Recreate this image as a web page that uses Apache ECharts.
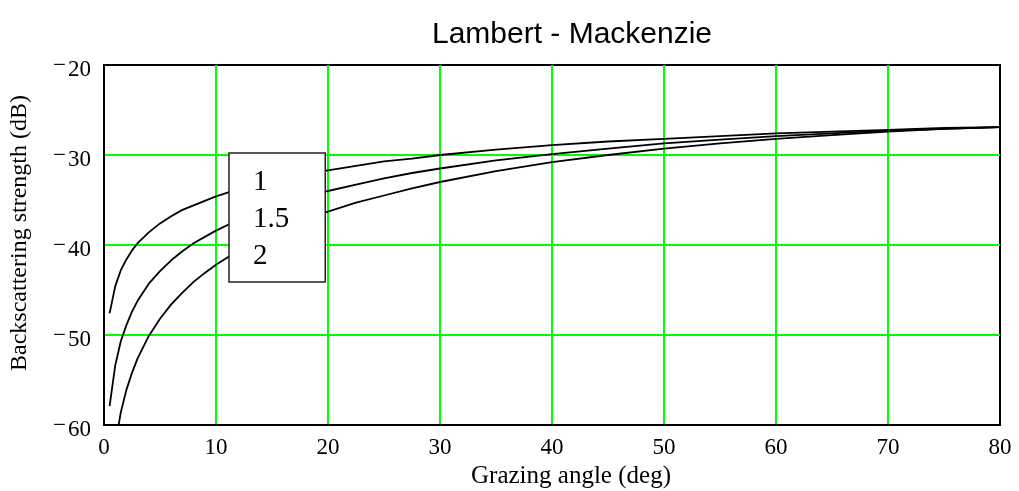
<!DOCTYPE html>
<html>
<head>
<meta charset="utf-8">
<script src="https://cdn.jsdelivr.net/npm/echarts@6/dist/echarts.min.js"></script>
<style>
  html, body { margin: 0; padding: 0; background: #ffffff; }
  #chart { width: 1019px; height: 491px; }
</style>
</head>
<body>
<div id="chart"></div>
<script>
// Grazing angles (deg) at which the curves are sampled
const angles = [0.5, 1, 1.5, 2, 2.5, 3, 4, 5, 6, 7, 8, 9, 10, 12, 14, 16, 18, 20,
  22.5, 25, 27.5, 30, 35, 40, 45, 50, 55, 60, 65, 70, 75, 80];

// Backscattering strength (dB) for each curve
const curve1 = [-47.6, -44.6, -42.8, -41.6, -40.6, -39.8, -38.6, -37.6, -36.8, -36.1,
  -35.6, -35.1, -34.6, -33.8, -33.2, -32.6, -32.1, -31.7, -31.2, -30.7, -30.4, -30.0,
  -29.4, -28.9, -28.5, -28.2, -27.9, -27.6, -27.4, -27.2, -27.0, -26.9];
const curve15 = [-57.9, -53.4, -50.7, -48.9, -47.4, -46.2, -44.3, -42.9, -41.7, -40.7,
  -39.8, -39.1, -38.4, -37.2, -36.2, -35.4, -34.7, -34.0, -33.3, -32.6, -32.0, -31.5,
  -30.6, -29.9, -29.3, -28.7, -28.3, -27.9, -27.6, -27.3, -27.1, -26.9];
const curve2 = [null, -62.2, -58.6, -56.1, -54.2, -52.6, -50.1, -48.2, -46.6, -45.3,
  -44.1, -43.1, -42.2, -40.6, -39.3, -38.2, -37.2, -36.3, -35.3, -34.5, -33.7, -33.0,
  -31.8, -30.8, -30.0, -29.3, -28.7, -28.2, -27.8, -27.4, -27.1, -26.9];

const seriesNames = ['1', '1.5', '2'];
const seriesValues = [curve1, curve15, curve2];

const xTicks = { min: 0, max: 80, step: 10 };
const yTicks = { min: -60, max: -20, step: 10 };

const serif = '"Liberation Serif", "Times New Roman", serif';
const sans = '"Liberation Sans", Arial, sans-serif';

const chart = echarts.init(document.getElementById('chart'), null, { renderer: 'canvas' });

chart.setOption({
  backgroundColor: '#ffffff',
  animation: false,
  title: {
    text: 'Lambert - Mackenzie',
    left: 567,
    textAlign: 'center',
    top: 15,
    textStyle: { fontFamily: sans, fontSize: 30, fontWeight: 'normal', color: '#000' }
  },
  legend: {
    data: seriesNames,
    orient: 'vertical',
    left: 229,
    top: 153,
    icon: 'none',
    itemWidth: 0,
    itemHeight: 30,
    itemGap: 7,
    padding: [14, 36, 11, 19],
    backgroundColor: '#ffffff',
    borderColor: '#222222',
    borderWidth: 1.5,
    selectedMode: false,
    textStyle: { fontFamily: serif, fontSize: 29, color: '#000', lineHeight: 30 }
  },
  grid: {
    left: 104, right: 19, top: 65, bottom: 66,
    outerBoundsMode: 'none',
    containLabel: false,
    show: true,
    borderColor: '#000',
    borderWidth: 2,
    backgroundColor: 'transparent'
  },
  xAxis: {
    type: 'value',
    min: xTicks.min, max: xTicks.max, interval: xTicks.step,
    name: 'Grazing angle (deg)',
    nameLocation: 'middle',
    nameGap: 33,
    nameTextStyle: { fontFamily: serif, fontSize: 25, color: '#000', padding: [0, 0, 0, 38] },
    axisLine: { show: true, lineStyle: { color: '#000', width: 2 } },
    axisTick: { show: false },
    axisLabel: { margin: 11, fontFamily: serif, fontSize: 23, color: '#000' },
    splitLine: { show: true, showMinLine: false, showMaxLine: false,
      lineStyle: { color: '#00ff00', width: 2 } }
  },
  yAxis: {
    type: 'value',
    min: yTicks.min, max: yTicks.max, interval: yTicks.step,
    name: 'Backscattering strength (dB)',
    nameLocation: 'middle',
    nameGap: 72,
    nameTextStyle: { fontFamily: serif, fontSize: 24, color: '#000', padding: [0, 0, 0, 24] },
    axisLine: { show: true, lineStyle: { color: '#000', width: 2 } },
    axisTick: { show: false },
    axisLabel: {
      margin: 13,
      padding: [9, 0, 0, 0],
      formatter: function (v) {
        return v < 0 ? '{m|\u2212}{n|' + Math.abs(v) + '}' : '{n|' + v + '}';
      },
      rich: {
        m: { fontFamily: serif, fontSize: 23, color: '#000', padding: [0, 2, 8, 0] },
        n: { fontFamily: serif, fontSize: 23, color: '#000' }
      }
    },
    splitLine: { show: true, showMinLine: false, showMaxLine: false,
      lineStyle: { color: '#00ff00', width: 2 } }
  },
  series: seriesNames.map(function (name, i) {
    return {
      name: name,
      type: 'line',
      data: angles.map(function (a, j) { return [a, seriesValues[i][j]]; }),
      showSymbol: false,
      symbol: 'none',
      clip: true,
      connectNulls: false,
      lineStyle: { color: '#000', width: 1.8 },
      itemStyle: { color: '#000' }
    };
  })
});
</script>
</body>
</html>
